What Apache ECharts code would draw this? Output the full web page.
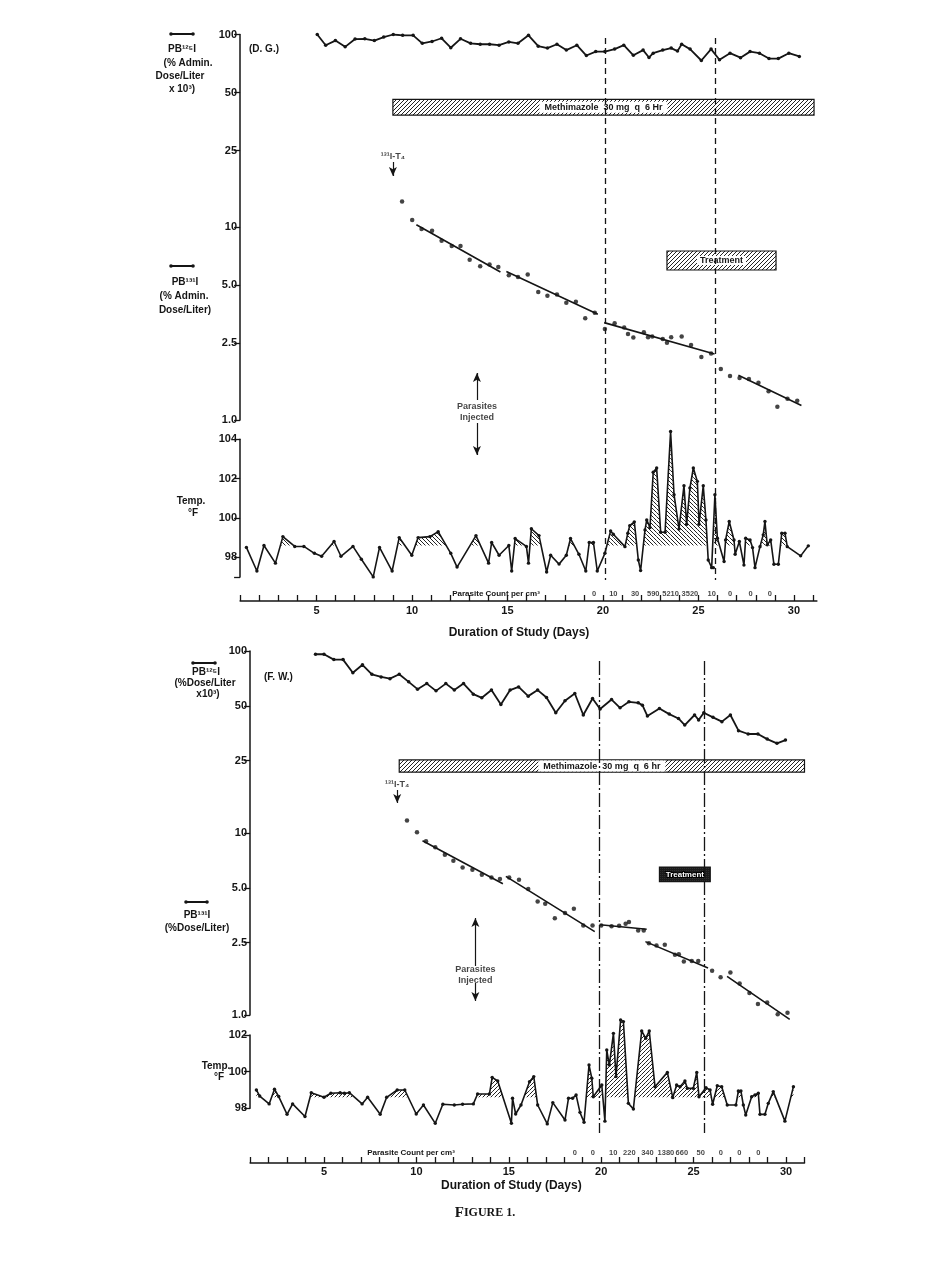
<!DOCTYPE html>
<html><head><meta charset="utf-8">
<script src="https://cdn.jsdelivr.net/npm/echarts@6/dist/echarts.min.js"></script>
<style>html,body{margin:0;padding:0;background:#fff}#c{width:936px;height:1261px}</style>
</head><body><div id="c"></div>
<script>
// ---------------- shared ticks ----------------
const dayTicks = [1,2,3,4,5,6,7,8,9,10,11,12,13,14,15,16,17,18,19,20,21,22,23,24,25,26,27,28,29,30,31];
const dayLabels = [5,10,15,20,25,30];
const logTicks = [1,2.5,5,10,25,50,100];
const logTickLabels = ['1.0','2.5','5.0','10','25','50','100'];
const tempTicksTop = [97,98,100,102,104];
const tempLabelsTop = [98,100,102,104];
const tempTicksBottom = [98,100,102];
const tempLabelsBottom = [98,100,102];
const feverBase = 98.6;

// ---------------- panel 1 : D. G. ----------------
const dgPB125Days = [5.04,5.48,5.99,6.5,7.02,7.53,8.03,8.52,9.02,9.51,10.06,10.54,11.05,11.55,12.03,12.54,13.07,13.57,14.06,14.56,15.07,15.55,16.1,16.61,17.09,17.59,18.08,18.63,19.13,19.62,20.1,20.61,21.09,21.59,22.1,22.41,22.63,23.13,23.57,23.9,24.12,24.56,25.15,25.66,26.1,26.65,27.2,27.7,28.19,28.69,29.18,29.73,30.28];
const dgPB125Vals = [100,88,93,86.3,94.7,95,93,97,100,99,99,90,92,95.6,85.4,95,90,89,89,88,91.5,90,99,87,85,89,83,88,77.8,81.5,81.5,84,88,78,83,76,80,83,85,82,89,84,73.3,84,74,80,75.8,81.5,80,75,75,80,77];
const dgPB131Days = [9.48,10.01,10.5,11.05,11.55,12.08,12.54,13.02,13.57,14.06,14.52,15.07,15.55,16.06,16.61,17.09,17.59,18.08,18.58,19.07,19.57,20.1,20.61,21.11,21.31,21.59,22.14,22.36,22.58,23.13,23.35,23.57,24.12,24.61,25.15,25.66,26.17,26.65,27.15,27.64,28.14,28.67,29.13,29.66,30.17];
const dgPB131Vals = [13.6,10.9,9.8,9.6,8.5,8.0,8.0,6.78,6.27,6.4,6.22,5.64,5.52,5.68,4.62,4.41,4.48,4.06,4.11,3.37,3.6,2.97,3.18,3.02,2.79,2.68,2.85,2.69,2.71,2.63,2.52,2.69,2.71,2.45,2.12,2.21,1.84,1.69,1.65,1.63,1.56,1.41,1.17,1.29,1.26];
const dgFitStartDays = [10.23,14.94,20.06,27.09];
const dgFitStartVals = [10.3,5.9,3.2,1.706];
const dgFitEndDays = [14.63,19.73,25.84,30.39];
const dgFitEndVals = [5.86,3.54,2.2,1.19];
const dgTempDays = [1.33,1.88,2.25,2.85,3.24,3.86,4.34,4.89,5.27,5.92,6.28,6.91,7.35,7.97,8.3,8.96,9.33,9.99,10.32,10.94,11.37,12.03,12.36,13.35,14.01,14.17,14.56,15.07,15.22,15.4,15.99,16.1,16.25,16.65,17.05,17.26,17.7,18.08,18.3,18.74,19.1,19.28,19.5,19.7,20.1,20.4,20.54,21.15,21.3,21.4,21.64,21.85,21.97,22.2,22.29,22.46,22.63,22.81,23.02,23.25,23.54,23.72,23.98,24.24,24.38,24.55,24.73,24.94,25.03,25.25,25.39,25.51,25.69,25.78,25.86,25.99,26.34,26.42,26.61,26.86,26.92,27.14,27.38,27.47,27.7,27.83,27.96,28.22,28.39,28.48,28.6,28.78,28.95,29.18,29.36,29.53,29.65,30.35,30.75];
const dgTempVals = [98.5,97.3,98.6,97.7,99.05,98.55,98.55,98.2,98.05,98.8,98.05,98.55,97.9,97.0,98.5,97.3,99.0,98.1,99.0,99.05,99.3,98.2,97.5,99.1,97.7,98.75,98.1,98.6,97.3,98.95,98.55,97.7,99.45,99.1,97.25,98.1,97.65,98.1,98.95,98.15,97.3,98.75,98.75,97.3,98.2,99.34,99.17,98.54,99.22,99.61,99.8,97.86,97.32,99.39,99.9,99.51,102.32,102.54,99.27,99.27,104.4,101.18,99.44,101.64,99.68,101.52,102.54,101.86,99.68,101.64,99.9,97.86,97.47,97.47,101.18,98.97,97.78,98.88,99.82,98.88,98.15,98.8,97.6,98.97,98.88,98.49,97.47,98.54,99.14,99.82,98.63,98.88,97.64,97.64,99.22,99.22,98.54,98.07,98.58];
const dgCountDays = [19.53,20.54,21.68,22.63,23.54,24.55,25.69,26.65,27.73,28.74];
const dgCounts = ['0','10','30','590','5210','3520','10','0','0','0'];
const dgDrugLineDays = [20.1,25.9];
const dgMethimazoleDays = [9.0,31.05];
const dgTreatmentDays = [23.35,29.06];
const dgT4Day = 9.0;
const dgParasiteDay = 13.4;

// ---------------- panel 2 : F. W. ----------------
const fwPB125Days = [4.54,5.0,5.53,6.03,6.56,7.08,7.59,8.09,8.57,9.07,9.58,10.06,10.56,11.06,11.59,12.05,12.55,13.08,13.54,14.06,14.57,15.07,15.53,16.05,16.56,17.04,17.54,18.04,18.57,19.03,19.53,19.94,20.56,21.02,21.5,22.0,22.23,22.5,23.15,23.68,24.18,24.52,25.05,25.27,25.55,26.05,26.53,26.99,27.43,27.95,28.48,28.98,29.51,29.97];
const fwPB125Vals = [96,96,89.7,89.7,76,84,74.5,72,70.5,74.5,67.7,61.7,66.2,60.4,66.2,61,66.2,57.9,55.3,61,50.8,61,63.5,56.5,61,55.5,45.8,53.3,58.4,44.5,54.8,48,54.1,48.7,52.6,51.9,50.4,43.9,48.3,45,42.6,39.2,44.5,41.8,45.8,43.2,40.9,44.5,36.5,35,35,32.8,31.1,32.4];
const fwPB131Days = [9.49,10.03,10.52,11.02,11.54,12.0,12.5,13.03,13.54,14.06,14.52,15.02,15.55,16.05,16.56,16.97,17.49,18.04,18.52,19.03,19.53,20.0,20.56,20.97,21.32,21.5,22.0,22.3,22.58,22.99,23.44,23.99,24.2,24.47,24.9,25.25,26.0,26.46,26.99,27.49,28.02,28.48,28.98,29.55,30.08];
const fwPB131Vals = [11.7,10.1,9.0,8.34,7.6,7.04,6.47,6.28,5.9,5.7,5.58,5.7,5.53,4.92,4.2,4.08,3.4,3.63,3.83,3.1,3.1,3.1,3.07,3.09,3.17,3.24,2.91,2.91,2.48,2.41,2.43,2.14,2.16,1.97,1.98,1.98,1.75,1.61,1.71,1.49,1.32,1.15,1.17,1.01,1.03];
const fwFitStartDays = [10.33,14.84,19.94,22.39,26.81];
const fwFitStartVals = [9.07,5.78,3.13,2.53,1.63];
const fwFitEndDays = [14.68,19.65,22.46,25.78,30.2];
const fwFitEndVals = [5.26,2.87,2.96,1.81,0.946];
const fwTempDays = [1.34,1.52,2.03,2.32,2.55,3.0,3.3,3.97,4.31,5.0,5.37,5.87,6.1,6.37,7.06,7.36,8.04,8.39,8.96,9.37,9.99,10.38,11.02,11.43,12.05,12.5,13.08,13.31,13.95,14.1,14.4,15.14,15.2,15.37,15.66,16.12,16.35,16.56,17.08,17.38,18.04,18.23,18.45,18.64,18.85,19.07,19.34,19.49,19.57,20.03,20.2,20.3,20.44,20.66,20.8,21.05,21.2,21.47,21.74,22.19,22.41,22.6,22.91,23.58,23.87,24.08,24.26,24.53,24.66,24.98,25.17,25.29,25.67,25.89,26.03,26.28,26.52,26.82,27.29,27.42,27.56,27.69,27.82,28.14,28.32,28.5,28.59,28.86,29.04,29.31,29.94,30.4];
const fwTempVals = [99.0,98.67,98.24,99.04,98.64,97.67,98.24,97.55,98.85,98.6,98.82,98.85,98.82,98.85,98.24,98.6,97.67,98.6,99.0,99.0,97.69,98.18,97.18,98.22,98.18,98.22,98.24,98.78,98.78,99.69,99.49,97.18,98.55,97.69,98.18,99.45,99.73,98.18,97.15,98.31,97.36,98.55,98.55,98.73,97.78,97.24,100.36,99.64,98.63,99.27,97.3,101.18,100.36,102.09,99.73,102.82,102.73,98.27,97.96,102.22,101.82,102.22,99.18,99.96,98.58,99.27,99.18,99.49,99.09,99.09,99.96,98.63,99.12,99.0,98.22,99.23,99.18,98.18,98.18,98.94,98.94,98.18,97.63,98.63,98.73,98.82,97.67,97.67,98.27,98.91,97.3,99.18];
const fwCountDays = [18.57,19.54,20.65,21.52,22.5,23.5,24.36,25.38,26.47,27.47,28.5];
const fwCounts = ['0','0','10','220','340','1380','660','50','0','0','0'];
const fwDrugLineDays = [19.92,25.56];
const fwMethimazoleDays = [9.07,31.0];
const fwTreatmentDays = [23.15,25.9];
const fwT4Day = 8.96;
const fwParasiteDay = 13.19;

// ---------------- styling helpers ----------------
const INK = '#151515';
const SANS = '"Liberation Sans","DejaVu Sans",Arial,sans-serif';

function hatch(dir, s, lw, col, bg) {
  const c = document.createElement('canvas');
  c.width = s; c.height = s;
  const g = c.getContext('2d');
  if (bg) { g.fillStyle = bg; g.fillRect(0, 0, s, s); }
  g.strokeStyle = col; g.lineWidth = lw; g.beginPath();
  if (dir === '/') {
    g.moveTo(0, s); g.lineTo(s, 0);
    g.moveTo(-s, s); g.lineTo(s, -s);
    g.moveTo(0, 2 * s); g.lineTo(2 * s, 0);
  } else {
    g.moveTo(0, 0); g.lineTo(s, s);
    g.moveTo(-s, 0); g.lineTo(s, 2 * s);
    g.moveTo(0, -s); g.lineTo(2 * s, s);
  }
  g.stroke();
  return { image: c, repeat: 'repeat' };
}

const panels = [
  { // D. G.
    pb125Days: dgPB125Days, pb125Vals: dgPB125Vals, pb131Days: dgPB131Days, pb131Vals: dgPB131Vals,
    fitS: dgFitStartDays, fitSV: dgFitStartVals, fitE: dgFitEndDays, fitEV: dgFitEndVals,
    tDays: dgTempDays, tVals: dgTempVals, cDays: dgCountDays, counts: dgCounts,
    drugLines: dgDrugLineDays, meth: dgMethimazoleDays, treat: dgTreatmentDays,
    t4Day: dgT4Day, parDay: dgParasiteDay,
    methText: 'Methimazole  30 mg  q  6 Hr',
    tempTicks: tempTicksTop, tempLabels: tempLabelsTop,
    left: 240.1, right: 119.1, xMax: 31.2,
    logTop: 34.5, logBottom: 420, tempTop: 439.3, tempBottom: 576.9, tMin: 97, tMax: 104,
    axisY: 601, ovTop: 30, labelMargin: 4.5, nameGap: 26, namePadR: 19,
    methHi: 46.1, methLo: 38.2, treatHi: 7.53, treatLo: 6.0,
    dashTop: 38, dashBot: 580, dashType: [6, 4],
    countY: 594, t4TextY: 157, t4Arrow: [162, 176], parUp: [400, 373], parText: 412, parDown: [423, 455],
    tempHatch: hatch('\\', 4, 1, '#222'),
    barHatch: hatch('/', 4, 1, '#222'),
    treatHatch: hatch('/', 4, 1, '#222'),
    treatLabel: { color: INK, backgroundColor: '#fff', padding: [0, 3], fontSize: 9 }
  },
  { // F. W.
    pb125Days: fwPB125Days, pb125Vals: fwPB125Vals, pb131Days: fwPB131Days, pb131Vals: fwPB131Vals,
    fitS: fwFitStartDays, fitSV: fwFitStartVals, fitE: fwFitEndDays, fitEV: fwFitEndVals,
    tDays: fwTempDays, tVals: fwTempVals, cDays: fwCountDays, counts: fwCounts,
    drugLines: fwDrugLineDays, meth: fwMethimazoleDays, treat: fwTreatmentDays,
    t4Day: fwT4Day, parDay: fwParasiteDay,
    methText: 'Methimazole  30 mg  q  6 hr',
    tempTicks: tempTicksBottom, tempLabels: tempLabelsBottom,
    left: 250.1, right: 131.5, xMax: 31.0,
    logTop: 651, logBottom: 1015, tempTop: 1035, tempBottom: 1108.3, tMin: 98, tMax: 102,
    axisY: 1163, ovTop: 640, labelMargin: 3, nameGap: 17, namePadR: 32,
    methHi: 25.2, methLo: 21.6, treatHi: 6.5, treatLo: 5.4,
    dashTop: 661, dashBot: 1133, dashType: [14, 3, 2, 3],
    countY: 1153, t4TextY: 785, t4Arrow: [790, 803], parUp: [966, 918], parText: 975, parDown: [983, 1001],
    tempHatch: hatch('/', 4, 1, '#222'),
    barHatch: hatch('/', 4, 1, '#222'),
    treatHatch: hatch('/', 2.5, 1.3, '#111', '#555'),
    treatLabel: { color: '#fff', textBorderColor: '#000', textBorderWidth: 2, fontSize: 8 }
  }
];

const grid = [], xAxis = [], yAxis = [], series = [];
const axisFont = { fontFamily: SANS, fontSize: 11, fontWeight: 'bold', color: INK };

panels.forEach((p, k) => {
  const gi = k * 3;
  const ovH = p.axisY - p.ovTop;
  grid.push(
    { left: p.left, right: p.right, top: p.logTop, height: p.logBottom - p.logTop, outerBoundsMode: 'none' },
    { left: p.left, right: p.right, top: p.tempTop, height: p.tempBottom - p.tempTop, outerBoundsMode: 'none' },
    { left: p.left, right: p.right, top: p.ovTop, height: ovH, outerBoundsMode: 'none' }
  );
  xAxis.push(
    { gridIndex: gi, type: 'value', min: 1, max: p.xMax, show: false },
    { gridIndex: gi + 1, type: 'value', min: 1, max: p.xMax, position: 'bottom', offset: p.axisY - p.tempBottom,
      axisLine: { show: true, onZero: false, lineStyle: { color: INK, width: 1.5 } },
      axisTick: { show: true, inside: true, length: 6, customValues: dayTicks, lineStyle: { color: INK, width: 1.3 } },
      axisLabel: Object.assign({ customValues: dayLabels, margin: p.labelMargin }, axisFont),
      splitLine: { show: false },
      name: 'Duration of Study (Days)', nameLocation: 'middle', nameGap: p.nameGap,
      nameTextStyle: { fontFamily: SANS, fontSize: 12, fontWeight: 'bold', color: INK, padding: [0, p.namePadR, 0, 0] } },
    { gridIndex: gi + 2, type: 'value', min: 1, max: p.xMax, show: false }
  );
  yAxis.push(
    { gridIndex: gi, type: 'log', logBase: 10, min: 1, max: 100,
      axisLine: { show: true, onZero: false, lineStyle: { color: INK, width: 1.5 } },
      axisTick: { show: true, length: 6, customValues: logTicks, lineStyle: { color: INK, width: 1.3 } },
      axisLabel: Object.assign({ customValues: logTicks, margin: 3,
        formatter: v => { const i = logTicks.findIndex(t => Math.abs(t - v) < 1e-6 * t); return i >= 0 ? logTickLabels[i] : ''; } }, axisFont),
      splitLine: { show: false } },
    { gridIndex: gi + 1, type: 'value', min: p.tMin, max: p.tMax,
      axisLine: { show: true, onZero: false, lineStyle: { color: INK, width: 1.5 } },
      axisTick: { show: true, length: 6, customValues: p.tempTicks, lineStyle: { color: INK, width: 1.3 } },
      axisLabel: Object.assign({ customValues: p.tempLabels, margin: 3 }, axisFont),
      splitLine: { show: false } },
    { gridIndex: gi + 2, type: 'value', min: 0, max: ovH, inverse: true, show: false }
  );

  // PB125I line + drug bars
  series.push({
    type: 'line', xAxisIndex: gi, yAxisIndex: gi, animation: false, z: 3,
    data: p.pb125Days.map((d, i) => [d, p.pb125Vals[i]]),
    symbol: 'circle', symbolSize: 3.5, itemStyle: { color: INK }, lineStyle: { color: INK, width: 1.8 },
    markArea: { silent: true, data: [
      [{ coord: [p.meth[0], p.methHi], itemStyle: { color: p.barHatch, borderColor: INK, borderWidth: 1.2 },
         label: { show: true, position: 'inside', formatter: p.methText, fontFamily: SANS, fontSize: 9, fontWeight: 'bold',
                  color: INK, backgroundColor: '#fff', padding: [1, 5] } },
       { coord: [p.meth[1], p.methLo] }],
      [{ coord: [p.treat[0], p.treatHi], itemStyle: { color: p.treatHatch, borderColor: INK, borderWidth: 1.2 },
         label: Object.assign({ show: true, position: 'inside', formatter: 'Treatment', fontFamily: SANS, fontWeight: 'bold' }, p.treatLabel) },
       { coord: [p.treat[1], p.treatLo] }]
    ] }
  });
  // PB131I points
  series.push({
    type: 'scatter', xAxisIndex: gi, yAxisIndex: gi, animation: false, z: 4,
    data: p.pb131Days.map((d, i) => [d, p.pb131Vals[i]]),
    symbol: 'circle', symbolSize: 4.5, itemStyle: { color: INK }
  });
  // fitted regression segments
  const fitData = [];
  p.fitS.forEach((d, i) => { fitData.push([d, p.fitSV[i]], [p.fitE[i], p.fitEV[i]]); if (i < p.fitS.length - 1) fitData.push('-'); });
  series.push({
    type: 'line', xAxisIndex: gi, yAxisIndex: gi, animation: false, z: 3, clip: false,
    data: fitData, connectNulls: false, showSymbol: false, symbol: 'none',
    lineStyle: { color: INK, width: 1.6 }
  });
  // fever hatch (above 98.6 F)
  series.push({
    type: 'custom', xAxisIndex: gi + 1, yAxisIndex: gi + 1, animation: false, z: 1, clip: false, silent: true,
    data: p.tDays.map((d, i) => [d, p.tVals[i]]),
    renderItem: (params, api) => {
      const i = params.dataIndex;
      if (i >= p.tDays.length - 1) return null;
      const xa = p.tDays[i], ya = p.tVals[i], xb = p.tDays[i + 1], yb = p.tVals[i + 1], th = feverBase;
      if (ya <= th && yb <= th) return null;
      let pts;
      if (ya > th && yb > th) pts = [[xa, ya], [xb, yb], [xb, th], [xa, th]];
      else {
        const xc = xa + (th - ya) / (yb - ya) * (xb - xa);
        pts = ya > th ? [[xa, ya], [xc, th], [xa, th]] : [[xc, th], [xb, yb], [xb, th]];
      }
      return { type: 'polygon', shape: { points: pts.map(q => api.coord(q)) }, style: { fill: p.tempHatch, stroke: null } };
    }
  });
  // temperature line
  series.push({
    type: 'line', xAxisIndex: gi + 1, yAxisIndex: gi + 1, animation: false, z: 3, clip: false,
    data: p.tDays.map((d, i) => [d, p.tVals[i]]),
    symbol: 'circle', symbolSize: 3.4, itemStyle: { color: INK }, lineStyle: { color: INK, width: 1.6 }
  });
  // overlay: parasite counts, drug period lines, arrows
  const oy = y => y - p.ovTop;
  const arrowEnd = { symbol: 'arrow', symbolSize: [6, 9] };
  series.push({
    type: 'scatter', xAxisIndex: gi + 2, yAxisIndex: gi + 2, animation: false, z: 5, clip: false, silent: true,
    data: p.cDays.map(d => [d, oy(p.countY)]),
    symbolSize: 1, itemStyle: { color: 'rgba(0,0,0,0)' },
    label: { show: true, position: 'inside', formatter: q => p.counts[q.dataIndex],
             fontFamily: SANS, fontSize: 7.5, fontWeight: 'bold', color: INK },
    markLine: { silent: true, animation: false, symbol: ['none', 'none'], label: { show: false },
      lineStyle: { color: INK, width: 1.3, type: p.dashType },
      data: [
        ...p.drugLines.map(d => [{ coord: [d, oy(p.dashTop)] }, { coord: [d, oy(p.dashBot)] }]),
        [{ coord: [p.t4Day, oy(p.t4Arrow[0])], lineStyle: { type: 'solid', width: 1.2 } }, Object.assign({ coord: [p.t4Day, oy(p.t4Arrow[1])] }, arrowEnd)],
        [{ coord: [p.parDay, oy(p.parUp[0])], lineStyle: { type: 'solid', width: 1.2 } }, Object.assign({ coord: [p.parDay, oy(p.parUp[1])] }, arrowEnd)],
        [{ coord: [p.parDay, oy(p.parDown[0])], lineStyle: { type: 'solid', width: 1.2 } }, Object.assign({ coord: [p.parDay, oy(p.parDown[1])] }, arrowEnd)]
      ] }
  });
  series.push({
    type: 'scatter', xAxisIndex: gi + 2, yAxisIndex: gi + 2, animation: false, z: 5, clip: false, silent: true,
    data: [[p.t4Day, oy(p.t4TextY)], [p.parDay, oy(p.parText)]],
    symbolSize: 1, itemStyle: { color: 'rgba(0,0,0,0)' },
    label: { show: true, position: 'inside', formatter: q => ['\u00B9\u00B3\u00B9I-T\u2084', 'Parasites\nInjected'][q.dataIndex],
             fontFamily: SANS, fontSize: 9, fontWeight: 'bold', color: INK, lineHeight: 11 }
  });
});

// ---------------- axis titles / labels ----------------
function txt(text, x, y, size, opts) {
  return { type: 'text', x: x, y: y, silent: true, z: 10,
    style: Object.assign({ text: text, fill: INK, font: 'bold ' + (size || 10) + 'px ' + SANS,
      align: 'center', verticalAlign: 'middle', textAlign: 'center', textVerticalAlign: 'middle' }, opts || {}) };
}
function glyph(x1, x2, y) {
  return [
    { type: 'line', silent: true, shape: { x1: x1, y1: y, x2: x2, y2: y }, style: { stroke: INK, lineWidth: 2 } },
    { type: 'circle', silent: true, shape: { cx: x1, cy: y, r: 1.8 }, style: { fill: INK } },
    { type: 'circle', silent: true, shape: { cx: x2, cy: y, r: 1.8 }, style: { fill: INK } }
  ];
}
const graphic = [].concat(
  glyph(171, 193, 34),
  [txt('PB\u00B9\u00B2\u2075I', 182, 49), txt('(% Admin.', 188, 63), txt('Dose/Liter', 180, 76.5), txt('x 10\u00B3)', 182, 89.5),
   txt('(D. G.)', 249, 49, 10, { align: 'left', textAlign: 'left' })],
  glyph(171, 193, 266),
  [txt('PB\u00B9\u00B3\u00B9I', 185, 282), txt('(% Admin.', 184, 296), txt('Dose/Liter)', 185, 310),
   txt('Temp.', 191, 501), txt('\u00B0F', 193, 513),
   txt('Parasite Count per cm\u00B3', 496, 594, 8)],
  glyph(193, 215, 663),
  [txt('PB\u00B9\u00B2\u2075I', 206, 672), txt('(%Dose/Liter', 205, 683), txt('x10\u00B3)', 208, 694),
   txt('(F. W.)', 264, 677, 10, { align: 'left', textAlign: 'left' })],
  glyph(186, 207, 902),
  [txt('PB\u00B9\u00B3\u00B9I', 197, 915), txt('(%Dose/Liter)', 197, 928),
   txt('Temp.', 216, 1066), txt('\u00B0F', 219, 1077),
   txt('Parasite Count per cm\u00B3', 411, 1153, 8),
   { type: 'text', x: 485, y: 1213, silent: true,
     style: { text: '{a|F}{b|IGURE 1.}', fill: INK, align: 'center', verticalAlign: 'middle', textAlign: 'center', textVerticalAlign: 'middle',
       rich: { a: { fontFamily: '"Liberation Serif","DejaVu Serif",serif', fontSize: 15, fontWeight: 'bold', color: INK },
               b: { fontFamily: '"Liberation Serif","DejaVu Serif",serif', fontSize: 12, fontWeight: 'bold', color: INK } } } }]
);

const chart = echarts.init(document.getElementById('c'), null, { renderer: 'canvas' });
chart.setOption({
  backgroundColor: '#fff',
  animation: false,
  grid: grid, xAxis: xAxis, yAxis: yAxis, series: series, graphic: graphic
});
</script>
</body></html>
